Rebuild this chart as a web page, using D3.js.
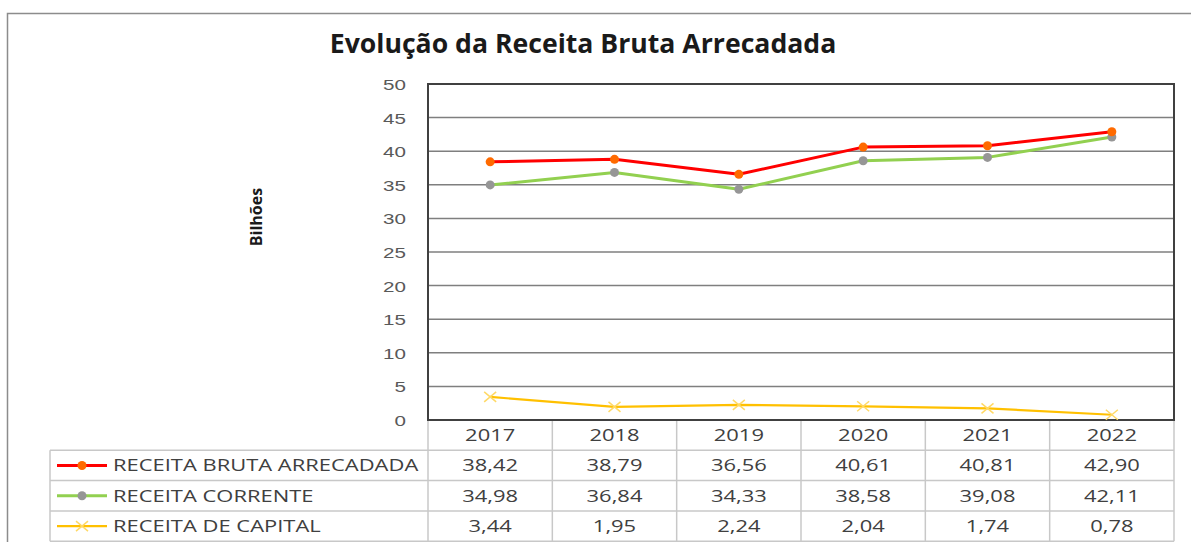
<!DOCTYPE html>
<html>
<head>
<meta charset="utf-8">
<script src="https://cdn.jsdelivr.net/npm/d3@7"></script>
<style>
  body { margin: 0; background: #fff; }
  svg { display: block; font-family: "Open Sans", "DejaVu Sans", sans-serif; }
</style>
</head>
<body>
<svg id="chart" width="1191" height="542"></svg>
<script>
// dados
const years = ["2017", "2018", "2019", "2020", "2021", "2022"];
const brutaValues = [38.42, 38.79, 36.56, 40.61, 40.81, 42.90];
const correnteValues = [34.98, 36.84, 34.33, 38.58, 39.08, 42.11];
const capitalValues = [3.44, 1.95, 2.24, 2.04, 1.74, 0.78];
const seriesNames = ["RECEITA BRUTA ARRECADADA", "RECEITA CORRENTE", "RECEITA DE CAPITAL"];
const yTicks = [0, 5, 10, 15, 20, 25, 30, 35, 40, 45, 50];

const series = [
  { name: seriesNames[0], values: brutaValues, line: "#ff0000", marker: "#ff6a00", type: "dot", width: 3 },
  { name: seriesNames[1], values: correnteValues, line: "#92d050", marker: "#969696", type: "dot", width: 3 },
  { name: seriesNames[2], values: capitalValues, line: "#ffc000", marker: "#ffc000", type: "x", width: 2.2 }
];

const svg = d3.select("#chart");
const plotL = 428, plotR = 1174, plotT = 84, plotB = 420;
const rowH = 30.3;
const sx = 1.33; // texto da imagem original é esticado na horizontal

const x = d3.scaleBand().domain(years).range([plotL, plotR]);
const y = d3.scaleLinear().domain([0, 50]).range([plotB, plotT]);
const fmt = v => v.toFixed(2).replace(".", ",");
const cx = d => x(d) + x.bandwidth() / 2;

// texto esticado
function stretched(g, px, py, txt, anchor, size) {
  return g.append("text")
    .attr("transform", `translate(${px},${py}) scale(${sx},1)`)
    .attr("dy", "0.35em")
    .attr("text-anchor", anchor)
    .attr("font-size", size).attr("fill", "#404040")
    .text(txt);
}

// moldura externa
svg.append("rect")
  .attr("x", 7.5).attr("y", 13.5).attr("width", 1200).attr("height", 600)
  .attr("fill", "none").attr("stroke", "#8c8c8c").attr("stroke-width", 1.5);

// título
const title = svg.append("text")
  .attr("x", 583).attr("y", 53)
  .attr("text-anchor", "middle")
  .attr("font-weight", "bold").attr("font-size", 22).attr("fill", "#1a1a1a")
  .text("Evolução da Receita Bruta Arrecadada");
const tw = title.node().getComputedTextLength();
title.attr("font-size", 22 * 507 / tw);

// grade
svg.append("g")
  .selectAll("line")
  .data(yTicks.filter(d => d > 0 && d < 50))
  .join("line")
  .attr("x1", plotL).attr("x2", plotR)
  .attr("y1", d => y(d)).attr("y2", d => y(d))
  .attr("stroke", "#7f7f7f").attr("stroke-width", 1.5);

// eixo y
const yAxis = svg.append("g")
  .attr("transform", `translate(${plotL},0)`)
  .call(d3.axisLeft(y).tickValues(yTicks).tickSize(0).tickPadding(22));
yAxis.select(".domain").remove();
yAxis.selectAll(".tick text").remove();
yAxis.selectAll(".tick").each(function () {
  d3.select(this).append("text")
    .attr("transform", `translate(-22,0) scale(${sx},1)`)
    .attr("dy", "0.35em").attr("text-anchor", "end")
    .attr("font-size", 15.5).attr("fill", "#595959")
    .text(d => d);
});

svg.append("text")
  .attr("transform", `translate(262,217) rotate(-90)`)
  .attr("text-anchor", "middle")
  .attr("font-size", 16).attr("font-weight", "bold").attr("fill", "#1a1a1a")
  .text("Bilhões");

// tabela
const tableBottom = plotB + rowH * 4;
const tg = svg.append("g").attr("stroke", "#c8c8c8").attr("stroke-width", 1.5);
[1, 2, 3, 4].forEach(i => {
  tg.append("line")
    .attr("x1", 50).attr("x2", plotR)
    .attr("y1", plotB + rowH * i).attr("y2", plotB + rowH * i);
});
const colEdges = years.map(d => x(d)).concat([plotR]);
colEdges.forEach(ex => {
  tg.append("line")
    .attr("x1", ex).attr("x2", ex)
    .attr("y1", plotB).attr("y2", tableBottom);
});
tg.append("line").attr("x1", 50).attr("x2", 50)
  .attr("y1", plotB + rowH).attr("y2", tableBottom);

// borda da área do gráfico
svg.append("rect")
  .attr("x", plotL).attr("y", plotT).attr("width", plotR - plotL).attr("height", plotB - plotT)
  .attr("fill", "none").attr("stroke", "#404040").attr("stroke-width", 2);

// cabeçalho de anos
const hg = svg.append("g");
years.forEach(yr => stretched(hg, cx(yr), plotB + rowH / 2, yr, "middle", 16.5));

// linhas de valores + legenda
series.forEach((s, si) => {
  const cy = plotB + rowH * (si + 1) + rowH / 2;
  const vg = svg.append("g");
  s.values.forEach((v, i) => stretched(vg, cx(years[i]), cy, fmt(v), "middle", 16.5));

  const lg = svg.append("g");
  lg.append("line").attr("x1", 57).attr("x2", 107).attr("y1", cy).attr("y2", cy)
    .attr("stroke", s.line).attr("stroke-width", s.width);
  if (s.type === "dot") {
    lg.append("circle").attr("cx", 82).attr("cy", cy).attr("r", 4.5).attr("fill", s.marker);
  } else {
    lg.append("path").attr("d", `M76,${cy - 5}L88,${cy + 5}M76,${cy + 5}L88,${cy - 5}`)
      .attr("stroke", "#ffd966").attr("stroke-width", 1.5);
  }
  stretched(lg, 113, cy, s.name, "start", 16.5);
});

// séries
const line = d3.line()
  .x((d, i) => cx(years[i]))
  .y(d => y(d));

series.slice().reverse().forEach(s => {
  const g = svg.append("g");
  g.append("path").datum(s.values)
    .attr("d", line).attr("fill", "none")
    .attr("stroke", s.line).attr("stroke-width", s.width)
    .attr("stroke-linejoin", "round");
  if (s.type === "dot") {
    g.selectAll("circle").data(s.values).join("circle")
      .attr("cx", (d, i) => cx(years[i]))
      .attr("cy", d => y(d)).attr("r", 4.5)
      .attr("fill", s.marker);
  } else {
    g.selectAll("path.mk").data(s.values).join("path")
      .attr("class", "mk")
      .attr("d", (d, i) => {
        const px = cx(years[i]), py = y(d);
        return `M${px - 6},${py - 5}L${px + 6},${py + 5}M${px - 6},${py + 5}L${px + 6},${py - 5}`;
      })
      .attr("stroke", "#ffd966").attr("stroke-width", 1.5);
  }
});
</script>
</body>
</html>
